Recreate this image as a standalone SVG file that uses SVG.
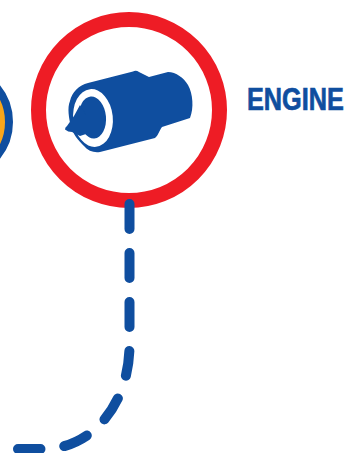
<svg xmlns="http://www.w3.org/2000/svg" width="347" height="453" viewBox="0 0 347 453">
<style>
.blue{fill:#0f4e9f}
.conn{fill:none;stroke:#0f4e9f;stroke-width:10;stroke-linecap:round;stroke-dasharray:25 24}
</style>
<rect width="347" height="453" fill="#fff"/>
<g id="node-left">
<circle cx="-45" cy="122" r="54" fill="#f9a61a" stroke="#0f4e9f" stroke-width="8"/>
</g>
<g id="node-engine">
<circle cx="129" cy="110" r="90.500" fill="#fff" stroke="#ee1c25" stroke-width="15"/>
<path class="blue" d="M88 83L133 71.500Q136 70 139 72L149 77L168 72C176 72 184 78 188 85C193 94 194 108 190 118L162 127C159 131 158 136 155 138L100 152C94 153 88 151 84 146C78 140 73 134 71 127C69 118 67 108 70 101C72 92 79 85 88 83Z"/>
<ellipse cx="93" cy="118" rx="19.800" ry="29" transform="rotate(-6 93 118)" fill="#fff"/>
<ellipse cx="92.500" cy="117.500" rx="13.500" ry="21" transform="rotate(-5 92.500 117.500)" class="blue"/>
<path class="blue" d="M65 129.500Q65 127 67 126L74 116L80 105L86 115L86 134L80 136L72 132Q68 132 65 129.500Z"/>
</g>
<g id="label-engine">
<text transform="translate(247 110) scale(.79 1)" font-family="Liberation Sans, Arial, sans-serif" font-weight="700" font-size="32" stroke="#0f4e9f" stroke-width=".7" fill="#0f4e9f">ENGINE</text>
</g>
<g id="connectors">
<path class="conn" d="M129.500 204V345C129.500 403 93 449 43 449H18"/>
</g>
</svg>
